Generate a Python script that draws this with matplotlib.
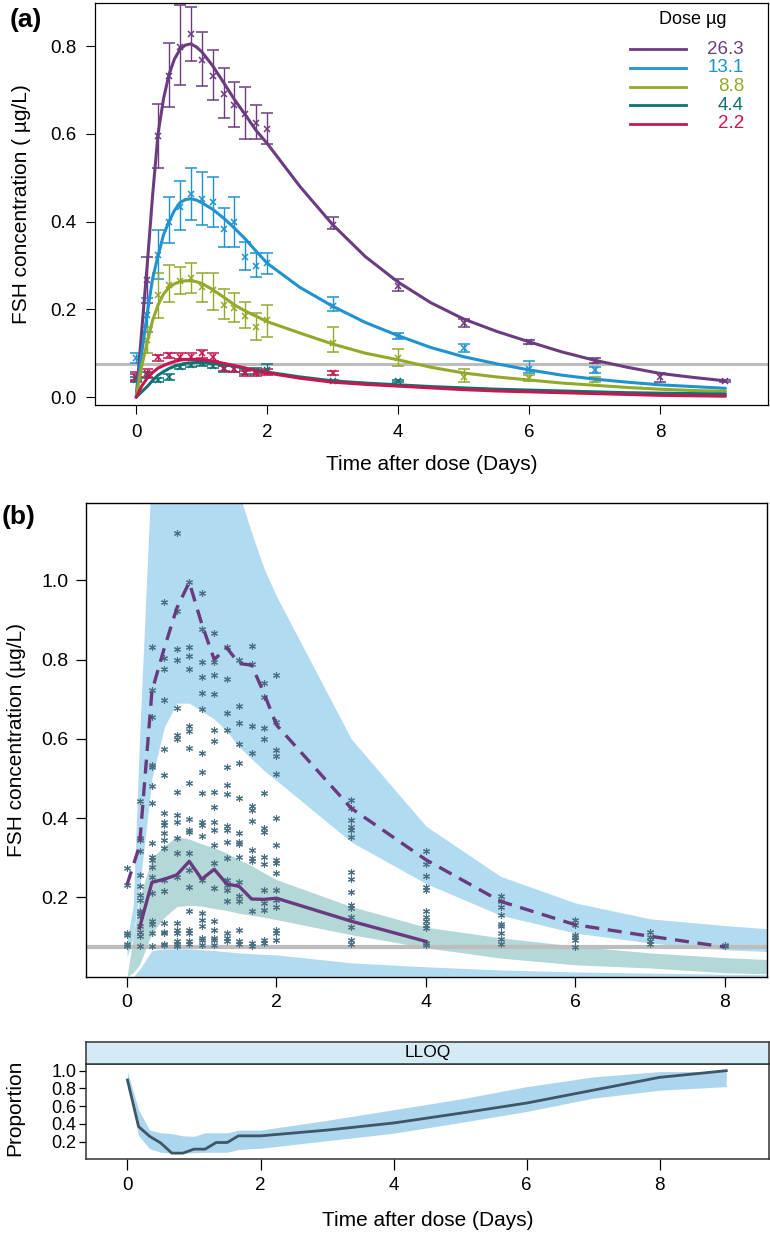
import matplotlib
matplotlib.use('Agg')
import matplotlib.pyplot as plt
from matplotlib import font_manager

names = {f.name for f in font_manager.fontManager.ttflist}
BASE = 'Liberation Sans' if 'Liberation Sans' in names else 'DejaVu Sans'
plt.rcParams['font.family'] = [BASE, 'DejaVu Sans']

# ---------------- Panel (a): model curves ----------------
model_t = [0, 0.083, 0.167, 0.25, 0.333, 0.417, 0.5, 0.583, 0.667, 0.75, 0.833, 0.917, 1.0,
           1.167, 1.333, 1.5, 1.667, 1.833, 2.0, 2.5, 3, 3.5, 4, 4.5, 5, 5.5, 6, 6.5, 7, 7.5, 8, 8.5, 9]
model_263 = [0, 0.15, 0.30, 0.46, 0.60, 0.68, 0.735, 0.77, 0.792, 0.802, 0.805, 0.798, 0.787,
             0.755, 0.717, 0.678, 0.643, 0.607, 0.578, 0.48, 0.393, 0.32, 0.262, 0.215, 0.178, 0.15,
             0.126, 0.103, 0.084, 0.068, 0.054, 0.045, 0.037]
model_131 = [0, 0.10, 0.19, 0.27, 0.322, 0.37, 0.40, 0.425, 0.443, 0.45, 0.452, 0.449, 0.443,
             0.428, 0.408, 0.385, 0.36, 0.332, 0.305, 0.25, 0.207, 0.17, 0.14, 0.113, 0.092, 0.076,
             0.062, 0.05, 0.041, 0.034, 0.028, 0.024, 0.02]
model_88 = [0, 0.07, 0.125, 0.175, 0.21, 0.235, 0.25, 0.258, 0.263, 0.265, 0.265, 0.263, 0.259,
            0.245, 0.228, 0.21, 0.196, 0.184, 0.172, 0.146, 0.121, 0.10, 0.085, 0.068, 0.055, 0.046,
            0.039, 0.032, 0.027, 0.022, 0.018, 0.015, 0.013]
model_44 = [0, 0.012, 0.024, 0.038, 0.05, 0.058, 0.065, 0.07, 0.074, 0.077, 0.078, 0.079, 0.079,
            0.077, 0.074, 0.07, 0.066, 0.061, 0.057, 0.046, 0.037, 0.032, 0.028, 0.024, 0.021, 0.018,
            0.016, 0.014, 0.012, 0.010, 0.009, 0.008, 0.007]
model_22 = [0, 0.025, 0.043, 0.056, 0.066, 0.072, 0.077, 0.081, 0.084, 0.086, 0.086, 0.086, 0.085,
            0.082, 0.077, 0.072, 0.066, 0.06, 0.055, 0.043, 0.034, 0.029, 0.025, 0.021, 0.017, 0.014,
            0.012, 0.010, 0.008, 0.006, 0.004, 0.003, 0.002]

# ---------------- Panel (a): observed means with error bars ----------------
obs_t_263 = [0, 0.167, 0.333, 0.5, 0.667, 0.833, 1.0, 1.167, 1.333, 1.5, 1.667, 1.833, 2.0, 3, 4, 5, 6, 7, 8, 9]
obs_m_263 = [0.045, 0.267, 0.594, 0.732, 0.797, 0.827, 0.769, 0.732, 0.691, 0.665, 0.645, 0.624, 0.611, 0.392, 0.253, 0.169, 0.125, 0.083, 0.045, 0.037]
obs_lo_263 = [0.040, 0.215, 0.522, 0.662, 0.711, 0.766, 0.709, 0.677, 0.637, 0.616, 0.588, 0.588, 0.577, 0.382, 0.242, 0.159, 0.120, 0.077, 0.035, 0.035]
obs_hi_263 = [0.052, 0.320, 0.668, 0.807, 0.893, 0.890, 0.833, 0.790, 0.750, 0.719, 0.706, 0.665, 0.647, 0.410, 0.268, 0.179, 0.130, 0.089, 0.054, 0.039]

obs_t_131 = [0, 0.167, 0.333, 0.5, 0.667, 0.833, 1.0, 1.167, 1.333, 1.5, 1.667, 1.833, 2.0, 3, 4, 5, 6, 7]
obs_m_131 = [0.088, 0.187, 0.324, 0.400, 0.434, 0.462, 0.452, 0.444, 0.384, 0.398, 0.320, 0.299, 0.305, 0.207, 0.139, 0.113, 0.065, 0.062]
obs_lo_131 = [0.077, 0.148, 0.270, 0.352, 0.381, 0.404, 0.392, 0.388, 0.341, 0.343, 0.290, 0.274, 0.280, 0.197, 0.133, 0.103, 0.054, 0.056]
obs_hi_131 = [0.100, 0.226, 0.380, 0.455, 0.493, 0.523, 0.514, 0.502, 0.430, 0.455, 0.354, 0.328, 0.328, 0.227, 0.145, 0.122, 0.083, 0.069]

obs_t_88 = [0.167, 0.333, 0.5, 0.667, 0.833, 1.0, 1.167, 1.333, 1.5, 1.667, 1.833, 2.0, 3, 4, 5, 6, 7]
obs_m_88 = [0.130, 0.233, 0.255, 0.265, 0.271, 0.250, 0.244, 0.210, 0.202, 0.185, 0.160, 0.175, 0.124, 0.088, 0.046, 0.043, 0.039]
obs_lo_88 = [0.100, 0.180, 0.217, 0.236, 0.238, 0.217, 0.198, 0.177, 0.172, 0.157, 0.130, 0.138, 0.102, 0.071, 0.035, 0.036, 0.034]
obs_hi_88 = [0.160, 0.282, 0.301, 0.297, 0.306, 0.283, 0.283, 0.246, 0.238, 0.217, 0.192, 0.210, 0.159, 0.109, 0.065, 0.050, 0.045]

obs_t_44 = [0, 0.167, 0.333, 0.5, 0.667, 0.833, 1.0, 1.167, 1.333, 1.5, 1.667, 1.833, 2.0, 3, 4]
obs_m_44 = [0.040, 0.050, 0.039, 0.046, 0.069, 0.073, 0.077, 0.071, 0.064, 0.064, 0.058, 0.059, 0.062, 0.037, 0.037]
obs_lo_44 = [0.035, 0.043, 0.035, 0.040, 0.064, 0.068, 0.070, 0.066, 0.058, 0.057, 0.052, 0.053, 0.055, 0.034, 0.034]
obs_hi_44 = [0.046, 0.057, 0.044, 0.052, 0.074, 0.078, 0.083, 0.076, 0.070, 0.070, 0.064, 0.066, 0.075, 0.040, 0.040]

obs_t_22 = [0, 0.167, 0.333, 0.5, 0.667, 0.833, 1.0, 1.167, 1.333, 1.5, 1.667, 1.833, 2.0, 3]
obs_m_22 = [0.046, 0.054, 0.092, 0.096, 0.092, 0.092, 0.100, 0.092, 0.066, 0.063, 0.054, 0.054, 0.057, 0.055]
obs_lo_22 = [0.036, 0.045, 0.083, 0.088, 0.086, 0.085, 0.090, 0.083, 0.060, 0.057, 0.048, 0.048, 0.050, 0.050]
obs_hi_22 = [0.057, 0.063, 0.097, 0.100, 0.100, 0.100, 0.108, 0.100, 0.072, 0.070, 0.060, 0.062, 0.064, 0.060]

dose_labels = ['26.3', '13.1', '8.8', '4.4', '2.2']
dose_colors = ['#6B3D80', '#1E93D0', '#93A92A', '#0E7173', '#C8174E']
LLOQ = 0.075

# ---------------- Panel (b): VPC ----------------
vpc_t = [0, 0.083, 0.167, 0.333, 0.5, 0.667, 0.833, 1.0, 1.167, 1.333, 1.5, 1.667, 1.833, 2.0, 3, 4, 5, 6, 7, 8, 9]
upper_hi = [0.09, 0.18, 0.60, 1.30, 1.50, 1.60, 1.62, 1.58, 1.45, 1.32, 1.22, 1.12, 1.03, 0.96, 0.60, 0.38, 0.253, 0.186, 0.146, 0.129, 0.115]
upper_lo = [0.05, 0.10, 0.22, 0.50, 0.63, 0.69, 0.69, 0.67, 0.65, 0.62, 0.58, 0.55, 0.52, 0.495, 0.34, 0.235, 0.155, 0.11, 0.085, 0.068, 0.06]
median_hi = [0.0, 0.10, 0.20, 0.30, 0.33, 0.354, 0.347, 0.335, 0.325, 0.312, 0.295, 0.28, 0.262, 0.245, 0.177, 0.125, 0.098, 0.077, 0.06, 0.048, 0.04]
median_lo = [0.0, 0.01, 0.03, 0.11, 0.15, 0.177, 0.18, 0.178, 0.172, 0.167, 0.16, 0.155, 0.15, 0.144, 0.106, 0.073, 0.047, 0.03, 0.022, 0.01, 0.005]
lower_hi = [0.0, 0.0, 0.018, 0.066, 0.07, 0.07, 0.07, 0.068, 0.066, 0.063, 0.06, 0.058, 0.056, 0.055, 0.035, 0.025, 0.017, 0.012, 0.009, 0.006, 0.004]
lower_lo = [0.0] * 21

p95_t = [0, 0.167, 0.333, 0.5, 0.667, 0.833, 1.0, 1.167, 1.333, 1.5, 1.667, 1.833, 2.0, 3, 4, 5, 6, 7, 8]
p95_obs = [0.232, 0.33, 0.72, 0.83, 0.93, 0.995, 0.89, 0.80, 0.83, 0.79, 0.786, 0.715, 0.635, 0.425, 0.295, 0.19, 0.131, 0.102, 0.075]
p50_t = [0.167, 0.333, 0.5, 0.667, 0.833, 1.0, 1.167, 1.333, 1.5, 1.667, 1.833, 2.0, 3, 4]
p50_obs = [0.123, 0.238, 0.246, 0.257, 0.291, 0.246, 0.271, 0.234, 0.228, 0.196, 0.195, 0.198, 0.14, 0.089]

obs_times = [0, 0.167, 0.333, 0.5, 0.667, 0.833, 1.0, 1.167, 1.333, 1.5, 1.667, 1.833, 2.0, 3, 4, 5, 6, 7, 8]
obs_conc = [
    [0.274, 0.232, 0.11, 0.105, 0.083, 0.077],
    [0.442, 0.35, 0.345, 0.316, 0.257, 0.228, 0.207, 0.194, 0.165, 0.161, 0.152, 0.127, 0.114, 0.102, 0.077],
    [0.832, 0.722, 0.656, 0.534, 0.528, 0.48, 0.438, 0.337, 0.303, 0.295, 0.278, 0.251, 0.211, 0.14, 0.134, 0.11, 0.077],
    [0.946, 0.803, 0.775, 0.698, 0.574, 0.509, 0.412, 0.391, 0.383, 0.362, 0.345, 0.324, 0.245, 0.215, 0.135, 0.114, 0.11, 0.083, 0.081],
    [1.119, 0.923, 0.826, 0.8, 0.677, 0.61, 0.6, 0.467, 0.407, 0.389, 0.349, 0.313, 0.251, 0.135, 0.117, 0.11, 0.089, 0.083, 0.077],
    [0.996, 0.832, 0.809, 0.777, 0.632, 0.621, 0.576, 0.488, 0.397, 0.37, 0.364, 0.312, 0.27, 0.226, 0.165, 0.119, 0.11, 0.089, 0.083],
    [0.969, 0.877, 0.793, 0.756, 0.716, 0.676, 0.564, 0.517, 0.463, 0.389, 0.383, 0.354, 0.245, 0.161, 0.144, 0.127, 0.098, 0.093, 0.081],
    [0.868, 0.793, 0.76, 0.714, 0.622, 0.595, 0.467, 0.429, 0.391, 0.37, 0.333, 0.286, 0.224, 0.14, 0.119, 0.098, 0.093, 0.081],
    [0.831, 0.752, 0.666, 0.622, 0.53, 0.484, 0.461, 0.379, 0.369, 0.339, 0.299, 0.245, 0.232, 0.219, 0.19, 0.11, 0.098, 0.089],
    [0.798, 0.683, 0.641, 0.587, 0.539, 0.45, 0.362, 0.341, 0.335, 0.302, 0.238, 0.203, 0.19, 0.119, 0.089, 0.083],
    [0.833, 0.789, 0.632, 0.564, 0.431, 0.421, 0.394, 0.32, 0.299, 0.291, 0.165, 0.085, 0.077],
    [0.74, 0.705, 0.627, 0.599, 0.463, 0.375, 0.364, 0.303, 0.285, 0.219, 0.186, 0.169, 0.093, 0.085],
    [0.762, 0.642, 0.572, 0.557, 0.512, 0.4, 0.333, 0.295, 0.286, 0.261, 0.219, 0.194, 0.176, 0.119, 0.11, 0.093],
    [0.446, 0.425, 0.396, 0.377, 0.37, 0.352, 0.265, 0.246, 0.213, 0.181, 0.173, 0.15, 0.125, 0.093, 0.083],
    [0.316, 0.285, 0.255, 0.226, 0.219, 0.165, 0.15, 0.14, 0.131, 0.123, 0.085, 0.079],
    [0.203, 0.19, 0.177, 0.156, 0.134, 0.127, 0.11, 0.095, 0.083],
    [0.144, 0.131, 0.106, 0.1, 0.093, 0.075],
    [0.112, 0.1, 0.089, 0.083],
    [0.081, 0.077],
]

# ---------------- Bottom panel: proportion below LLOQ ----------------
prop_t = [0, 0.167, 0.333, 0.5, 0.667, 0.833, 1.0, 1.167, 1.333, 1.5, 1.667, 1.833, 2.0, 3, 4, 5, 6, 7, 8, 9]
prop_obs = [0.895, 0.37, 0.26, 0.185, 0.07, 0.07, 0.115, 0.115, 0.19, 0.19, 0.265, 0.265, 0.265, 0.33, 0.41, 0.52, 0.635, 0.78, 0.925, 1.0]
prop_hi = [0.99, 0.56, 0.33, 0.30, 0.29, 0.265, 0.26, 0.30, 0.30, 0.30, 0.33, 0.33, 0.33, 0.44, 0.56, 0.68, 0.82, 0.93, 0.99, 0.99]
prop_lo = [0.87, 0.27, 0.12, 0.08, 0.07, 0.07, 0.075, 0.08, 0.08, 0.08, 0.11, 0.12, 0.125, 0.21, 0.295, 0.415, 0.54, 0.69, 0.78, 0.82]

W, H = 770, 1236
fig = plt.figure(figsize=(W / 100, H / 100), dpi=100)


def box(l, t, r, b):
    return [l / W, 1 - b / H, (r - l) / W, (b - t) / H]


# ======== Panel (a) ========
axA = fig.add_axes(box(95, 3, 768, 405))
axA.set_xlim(-0.63, 9.65)
axA.set_ylim(-0.018, 0.898)
axA.axhline(LLOQ, color='#BDBDBD', lw=2.2, zorder=1)
models = [model_263, model_131, model_88, model_44, model_22]
obs = [(obs_t_263, obs_m_263, obs_lo_263, obs_hi_263),
       (obs_t_131, obs_m_131, obs_lo_131, obs_hi_131),
       (obs_t_88, obs_m_88, obs_lo_88, obs_hi_88),
       (obs_t_44, obs_m_44, obs_lo_44, obs_hi_44),
       (obs_t_22, obs_m_22, obs_lo_22, obs_hi_22)]
for mod, (t, m, lo, hi), col in zip(models, obs, dose_colors):
    axA.plot(model_t, mod, color=col, lw=2.2, zorder=3, solid_capstyle='round')
    yerr = [[mi - li for mi, li in zip(m, lo)], [hi_ - mi for mi, hi_ in zip(m, hi)]]
    axA.errorbar(t, m, yerr=yerr, fmt='x', color=col, ms=5, mew=1.1, elinewidth=1.0,
                 capsize=4, capthick=1.0, zorder=2)
axA.set_xticks([0, 2, 4, 6, 8])
axA.set_yticks([0.0, 0.2, 0.4, 0.6, 0.8])
axA.set_yticklabels(['0.0', '0.2', '0.4', '0.6', '0.8'])
axA.tick_params(direction='out', length=6.5, width=0.8, labelsize=13.5)
axA.tick_params(axis='y', pad=7)
axA.tick_params(axis='x', pad=7)
for s in axA.spines.values():
    s.set_linewidth(0.9)

# key (legend) for doses
def ax_xy(px, py):
    return (px - 95) / 673, (405 - py) / 402

tx, ty = ax_xy(693, 20)
axA.text(tx, ty, 'Dose µg', transform=axA.transAxes, ha='center', va='center', fontsize=13)
rows = [49.3, 67.7, 86.7, 105.3, 124]
for lab, col, py in zip(dose_labels, dose_colors, rows):
    x0, y0 = ax_xy(630, py)
    x1, _ = ax_xy(686, py)
    xr, _ = ax_xy(744, py)
    axA.plot([x0, x1], [y0, y0], transform=axA.transAxes, color=col, lw=2.0)
    axA.text(xr, y0, lab, transform=axA.transAxes, ha='right', va='center', fontsize=13.5, color=col)

fig.text(431.5 / W, 1 - 465 / H, 'Time after dose (Days)', ha='center', va='center', fontsize=15)
fig.text(22 / W, 1 - 204 / H, 'FSH concentration ( µg/L)', ha='center', va='center', rotation=90, fontsize=15)
fig.text(10 / W, 1 - 20 / H, '(a)', ha='left', va='center', fontsize=19, fontweight='bold')

# ======== Panel (b) ========
axB = fig.add_axes(box(85.7, 503, 766.7, 976.7))
axB.set_xlim(-0.553, 8.56)
axB.set_ylim(0.0, 1.195)
band_blue = '#B1DBF0'
axB.fill_between(vpc_t, upper_lo, upper_hi, color=band_blue, lw=0, zorder=1)
axB.fill_between(vpc_t, lower_lo, lower_hi, color=band_blue, lw=0, zorder=1)
axB.fill_between(vpc_t, median_lo, median_hi, color='#B4D7D8', lw=0, zorder=1.5)
axB.axhline(LLOQ, color='#BDBDBD', lw=3, zorder=2)
for t, vals in zip(obs_times, obs_conc):
    axB.plot([t] * len(vals), vals, ls='none', marker=(6, 2, 0), ms=5, mew=0.8,
             color='#4B6F82', zorder=3)
axB.plot(p95_t, p95_obs, color='#6A3A7E', lw=2.4, dashes=(4.2, 2.6), zorder=4)
axB.plot(p50_t, p50_obs, color='#6A3A7E', lw=2.4, zorder=4)
axB.set_xticks([0, 2, 4, 6, 8])
axB.set_yticks([0.2, 0.4, 0.6, 0.8, 1.0])
axB.set_yticklabels(['0.2', '0.4', '0.6', '0.8', '1.0'])
axB.tick_params(direction='out', length=7.5, width=0.9, labelsize=14, pad=5)
for s in axB.spines.values():
    s.set_linewidth(1.0)
fig.text(17 / W, 1 - 740 / H, 'FSH concentration (µg/L)', ha='center', va='center', rotation=90, fontsize=15)
fig.text(2 / W, 1 - 517 / H, '(b)', ha='left', va='center', fontsize=19, fontweight='bold')

# ======== Bottom panel ========
axC = fig.add_axes(box(86.2, 1064.3, 769.5, 1159))
axC.set_xlim(-0.62, 9.65)
axC.set_ylim(0.004, 1.072)
axC.fill_between(prop_t, prop_lo, prop_hi, color='#ABD6EE', lw=0, zorder=1)
axC.plot(prop_t, prop_obs, color='#3E5666', lw=2.0, zorder=2)
axC.set_xticks([0, 2, 4, 6, 8])
axC.set_yticks([0.2, 0.4, 0.6, 0.8, 1.0])
axC.set_yticklabels(['0.2', '0.4', '0.6', '0.8', '1.0'])
axC.tick_params(axis='y', direction='out', length=5, width=0.9, labelsize=13, pad=2)
axC.tick_params(axis='x', direction='out', length=8, width=0.9, labelsize=13.5, pad=5)
for s in axC.spines.values():
    s.set_linewidth(1.1)
    s.set_color('#333333')

axS = fig.add_axes(box(86.2, 1041.7, 769.5, 1064.3))
axS.set_facecolor('#D4EAF5')
axS.set_xticks([])
axS.set_yticks([])
for s in axS.spines.values():
    s.set_linewidth(1.1)
    s.set_color('#333333')
axS.text(0.5, 0.5, 'LLOQ', transform=axS.transAxes, ha='center', va='center', fontsize=12.5)

fig.text(428 / W, 1 - 1220 / H, 'Time after dose (Days)', ha='center', va='center', fontsize=15)
fig.text(15 / W, 1 - 1108 / H, 'Proportion', ha='center', va='center', rotation=90, fontsize=15)

fig.savefig('out.png', dpi=100)
